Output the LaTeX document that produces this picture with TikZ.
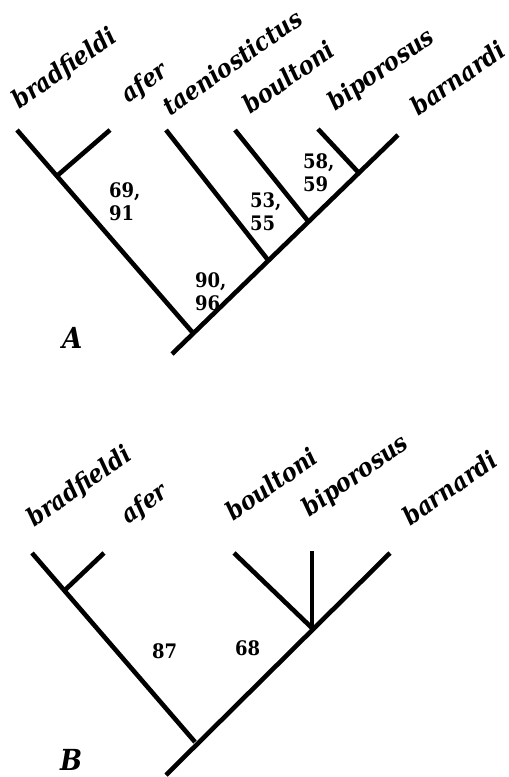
\documentclass[tikz,border=0pt]{standalone}
\usepackage{fontspec}
\setmainfont{DejaVu Serif Condensed}
\begin{document}
\begin{tikzpicture}[x=1pt,y=1pt,
  branch/.style={line width=4.6pt, line cap=butt, line join=miter},
  taxon/.style={font=\fontsize{25}{29}\selectfont\bfseries\itshape, inner sep=0pt, anchor=base west, rotate=35},
  support/.style={font=\fontsize{20}{23}\selectfont\bfseries, inner sep=0pt, anchor=north west, align=left},
  panel/.style={font=\fontsize{29}{32}\selectfont\bfseries\itshape, inner sep=0pt, anchor=base west}]
\useasboundingbox (0,0) rectangle (509,-777);

% ---------- tree A ----------
\coordinate (Abrad) at (17,-130);
\coordinate (Aafer) at (110,-130);
\coordinate (Ataen) at (166,-130);
\coordinate (Aboul) at (235,-130);
\coordinate (Abipo) at (318,-129);
\coordinate (Abarn) at (398,-135);
\coordinate (An1) at (58,-175);
\coordinate (Aroot) at (193,-333);
\coordinate (Astem) at (172,-354);
\coordinate (An2) at (268,-260);
\coordinate (An3) at (308,-221);
\coordinate (An4) at (358,-172);

\draw[branch] (Abrad) -- (Aroot);
\draw[branch] (An1) -- (Aafer);
\draw[branch] (Astem) -- (Abarn);
\draw[branch] (An2) -- (Ataen);
\draw[branch] (An3) -- (Aboul);
\draw[branch] (An4) -- (Abipo);

\node[taxon] (tAbrad) at (19,-110) {bradfieldi};
\node[taxon] (tAafer) at (128,-104) {afer};
\node[taxon] (tAtaen) at (170,-117) {taeniostictus};
\node[taxon] (tAboul) at (250,-115) {boultoni};
\node[taxon] (tAbipo) at (335,-112) {biporosus};
\node[taxon] (tAbarn) at (418,-117) {barnardi};

\node[support] (sA1) at (109,-182) {69,\\91};
\node[support] (sA2) at (250,-192) {53,\\55};
\node[support] (sA3) at (303,-153) {58,\\59};
\node[support] (sA4) at (195,-272) {90,\\96};

\node[panel] (lA) at (62,-348) {A};

% ---------- tree B ----------
\coordinate (Bbrad) at (32,-553);
\coordinate (Bafer) at (104,-553);
\coordinate (Bboul) at (234,-553);
\coordinate (Bbipo) at (312,-551);
\coordinate (Bbarn) at (390,-553);
\coordinate (Bn1) at (65,-590);
\coordinate (Broot) at (195,-742);
\coordinate (Bstem) at (166,-775);
\coordinate (Bn2) at (312,-628);

\draw[branch] (Bbrad) -- (Broot);
\draw[branch] (Bn1) -- (Bafer);
\draw[branch] (Bstem) -- (Bbarn);
\draw[branch] (Bn2) -- (Bboul);
\draw[branch] (Bn2) -- (Bbipo);

\node[taxon] (tBbrad) at (34,-528) {bradfieldi};
\node[taxon] (tBafer) at (128,-525) {afer};
\node[taxon] (tBboul) at (233,-522) {boultoni};
\node[taxon] (tBbipo) at (309,-518) {biporosus};
\node[taxon] (tBbarn) at (410,-527) {barnardi};

\node[support] (sB1) at (152,-643) {87};
\node[support] (sB2) at (235,-640) {68};

\node[panel] (lB) at (60,-770) {B};
\end{tikzpicture}
\end{document}
